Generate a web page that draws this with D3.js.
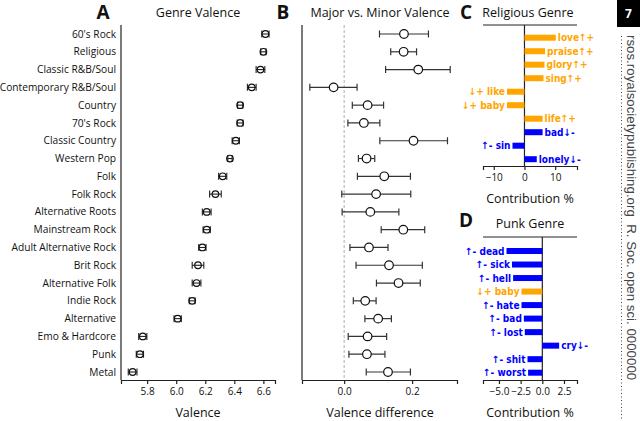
<!DOCTYPE html>
<html><head><meta charset="utf-8">
<script src="https://cdn.jsdelivr.net/npm/d3@7"></script>
<style>
body{margin:0;background:#fff}
svg{display:block}
text{font-family:"Open Sans",sans-serif;fill:#111}
.wl{font-family:"Liberation Sans Narrow","DejaVu Sans Condensed",sans-serif;font-weight:bold;font-size:10px}
</style>
</head><body>
<svg id="c" width="640" height="421"></svg>
<script>
// ---------- data ----------
const genres = ["60's Rock","Religious","Classic R&B/Soul","Contemporary R&B/Soul","Country","70's Rock","Classic Country","Western Pop","Folk","Folk Rock","Alternative Roots","Mainstream Rock","Adult Alternative Rock","Brit Rock","Alternative Folk","Indie Rock","Alternative","Emo & Hardcore","Punk","Metal"];
const valence    = [6.614,6.60,6.58,6.52,6.44,6.44,6.41,6.37,6.32,6.27,6.21,6.21,6.18,6.15,6.14,6.11,6.01,5.77,5.75,5.70];
const valenceErr = [0.025,0.018,0.03,0.03,0.018,0.02,0.025,0.015,0.028,0.04,0.03,0.025,0.025,0.04,0.03,0.02,0.025,0.028,0.025,0.03];
const valenceTicks = [5.8,6.0,6.2,6.4,6.6];

const diffMid = [0.176,0.175,0.218,-0.031,0.069,0.058,0.204,0.066,0.118,0.094,0.077,0.174,0.073,0.132,0.160,0.062,0.100,0.069,0.067,0.129];
const diffLo  = [0.104,0.137,0.122,-0.101,0.024,0.011,0.105,0.042,0.039,-0.007,-0.006,0.109,0.017,0.035,0.095,0.027,0.061,0.012,0.014,0.065];
const diffHi  = [0.248,0.213,0.312,0.038,0.116,0.105,0.304,0.090,0.195,0.196,0.161,0.237,0.129,0.230,0.224,0.094,0.139,0.125,0.120,0.195];
const diffTicks = [0.0,0.2];

const relLabels = ["love↑+","praise↑+","glory↑+","sing↑+","↓+ like","↓+ baby","life↑+","bad↓-","↑- sin","lonely↓-"];
const relValues = [10.2,6.7,6.5,6.2,-5.7,-5.7,5.9,5.9,-3.9,4.0];
const relSign   = ["+","+","+","+","+","+","+","-","-","-"];
const relTicks  = [-10,0,10];

const punkLabels = ["↑- dead","↑- sick","↑- hell","↓+ baby","↑- hate","↑- bad","↑- lost","cry↓-","↑- shit","↑- worst"];
const punkValues = [-4.13,-3.5,-3.37,-2.4,-2.4,-2.13,-2.02,1.94,-1.71,-1.64];
const punkSign   = ["-","-","-","+","-","-","-","-","-","-"];
const punkTicks  = [-5.0,-2.5,0.0,2.5];

// ---------- drawing ----------
const svg = d3.select("#c");
svg.append("rect").attr("width",640).attr("height",421).attr("fill","#fff");
const signColor = d3.scaleOrdinal().domain(["+","-"]).range(["#ffa500","#0000ff"]);

function letter(t,x,y){svg.append("text").attr("x",x).attr("y",y).attr("text-anchor","middle")
  .style("font-size","19px").style("font-weight","bold").text(t);}
function title(t,x,y){svg.append("text").attr("x",x).attr("y",y).attr("text-anchor","middle")
  .style("font-size","12.5px").text(t);}
function styleAxis(g){
  g.select(".domain").attr("stroke","#222").attr("stroke-width",1.2);
  g.selectAll(".tick line").attr("stroke","#222").attr("stroke-width",1.2);
  g.selectAll(".tick text").style("font-family","'Open Sans',sans-serif").style("font-size","10px").attr("fill","#111");
}

// Panel A
const yRows = d3.scalePoint().domain(genres).range([34,372]);
const xA = d3.scaleLinear().domain([5.62,6.68]).range([121,275]);
letter("A",103,19); title("Genre Valence",198,17);
svg.append("line").attr("x1",121).attr("x2",121).attr("y1",25).attr("y2",380).attr("stroke","#222").attr("stroke-width",1.2);
const axA = svg.append("g").attr("transform","translate(0,380)")
  .call(d3.axisBottom(xA).tickValues(valenceTicks).tickFormat(d3.format(".1f")).tickSizeOuter(0).tickSize(4).tickPadding(4));
styleAxis(axA);
svg.append("text").attr("x",198).attr("y",417).attr("text-anchor","middle").style("font-size","12.5px").text("Valence");
svg.selectAll(".glab").data(genres).join("text").attr("class","glab")
  .attr("x",116).attr("y",d=>yRows(d)).attr("dy","0.35em").attr("text-anchor","end")
  .style("font-size","10.2px").text(d=>d);
const gA = svg.append("g");
genres.forEach((g,i)=>{
  const y=yRows(g), lo=xA(valence[i]-valenceErr[i]), hi=xA(valence[i]+valenceErr[i]);
  gA.append("line").attr("x1",lo).attr("x2",hi).attr("y1",y).attr("y2",y).attr("stroke","#222").attr("stroke-width",1.1);
  [lo,hi].forEach(x=>gA.append("line").attr("x1",x).attr("x2",x).attr("y1",y-3.5).attr("y2",y+3.5).attr("stroke","#222").attr("stroke-width",1.1));
  gA.append("circle").attr("cx",xA(valence[i])).attr("cy",y).attr("r",3.3).attr("fill","none").attr("stroke","#111").attr("stroke-width",1.2);
});

// Panel B
const xB = d3.scaleLinear().domain([-0.124,0.332]).range([302,457]);
letter("B",283,19); title("Major vs. Minor Valence",380,17);
svg.append("line").attr("x1",302).attr("x2",302).attr("y1",25).attr("y2",380).attr("stroke","#222").attr("stroke-width",1.2);
svg.append("line").attr("x1",xB(0)).attr("x2",xB(0)).attr("y1",25).attr("y2",380).attr("stroke","#999").attr("stroke-width",0.8).attr("stroke-dasharray","3,2");
const axB = svg.append("g").attr("transform","translate(0,380)")
  .call(d3.axisBottom(xB).tickValues(diffTicks).tickFormat(d3.format(".1f")).tickSizeOuter(0).tickSize(4).tickPadding(4));
styleAxis(axB);
svg.append("text").attr("x",380).attr("y",417).attr("text-anchor","middle").style("font-size","12.5px").text("Valence difference");
const gB = svg.append("g");
genres.forEach((g,i)=>{
  const y=yRows(g), lo=xB(diffLo[i]), hi=xB(diffHi[i]);
  gB.append("line").attr("x1",lo).attr("x2",hi).attr("y1",y).attr("y2",y).attr("stroke","#333").attr("stroke-width",1.2);
  [lo,hi].forEach(x=>gB.append("line").attr("x1",x).attr("x2",x).attr("y1",y-3.5).attr("y2",y+3.5).attr("stroke","#333").attr("stroke-width",1.2));
  gB.append("circle").attr("cx",xB(diffMid[i])).attr("cy",y).attr("r",4.3).attr("fill","#fff").attr("stroke","#111").attr("stroke-width",1.2);
});

// Bar panels
function barPanel(labels,values,signs,ticks,domain,top,bottom,rowTop,rowBot,fmt){
  const x = d3.scaleLinear().domain(domain).range([483,577]);
  const y = d3.scalePoint().domain(labels).range([rowTop,rowBot]);
  svg.append("line").attr("x1",483).attr("x2",577).attr("y1",top).attr("y2",top).attr("stroke","#222").attr("stroke-width",1.2);
  svg.append("line").attr("x1",x(0)).attr("x2",x(0)).attr("y1",top).attr("y2",bottom).attr("stroke","#222").attr("stroke-width",1.2);
  const ax = svg.append("g").attr("transform",`translate(0,${bottom})`)
    .call(d3.axisBottom(x).tickValues(ticks).tickFormat(fmt).tickSizeOuter(0).tickSize(4).tickPadding(4));
  styleAxis(ax);
  svg.append("text").attr("x",530).attr("y",bottom+37).attr("text-anchor","middle").style("font-size","12.5px").text("Contribution %");
  labels.forEach((l,i)=>{
    const v=values[i], yy=y(l), c=signColor(signs[i]);
    svg.append("rect").attr("x",x(Math.min(0,v))).attr("width",Math.abs(x(v)-x(0)))
      .attr("y",yy-3).attr("height",6).attr("fill",c);
    svg.append("text").attr("class","wl").attr("x",v>=0?x(v)+2:x(v)-2).attr("y",yy).attr("dy","0.36em")
      .attr("text-anchor",v>=0?"start":"end").attr("fill",c).style("fill",c).text(l);
  });
}
letter("C",466,19); title("Religious Genre",528,17);
barPanel(relLabels,relValues,relSign,relTicks,[-13.5,17.1],25,166,37.7,159.2,d3.format("d"));
letter("D",466,227); title("Punk Genre",530,228);
barPanel(punkLabels,punkValues,punkSign,punkTicks,[-6.84,4.0],237,380,251,372.7,d3.format(".1f"));

// Journal margin
svg.append("rect").attr("x",617).attr("y",0).attr("width",23).attr("height",27).attr("fill","#000");
svg.append("text").attr("x",628.5).attr("y",18).attr("text-anchor","middle").style("font-size","12px").style("font-weight","bold").style("fill","#fff").text("7");
svg.append("line").attr("x1",621.5).attr("x2",621.5).attr("y1",36).attr("y2",421).attr("stroke","#444").attr("stroke-width",1).attr("stroke-dasharray","1,2.5");
svg.append("text").attr("transform","translate(627,35) rotate(90)")
  .style("font-family","'Liberation Sans',sans-serif").style("font-size","13.3px").style("fill","#444")
  .attr("xml:space","preserve").text("rsos.royalsocietypublishing.org  R. Soc. open sci. 0000000");
</script>
</body></html>
